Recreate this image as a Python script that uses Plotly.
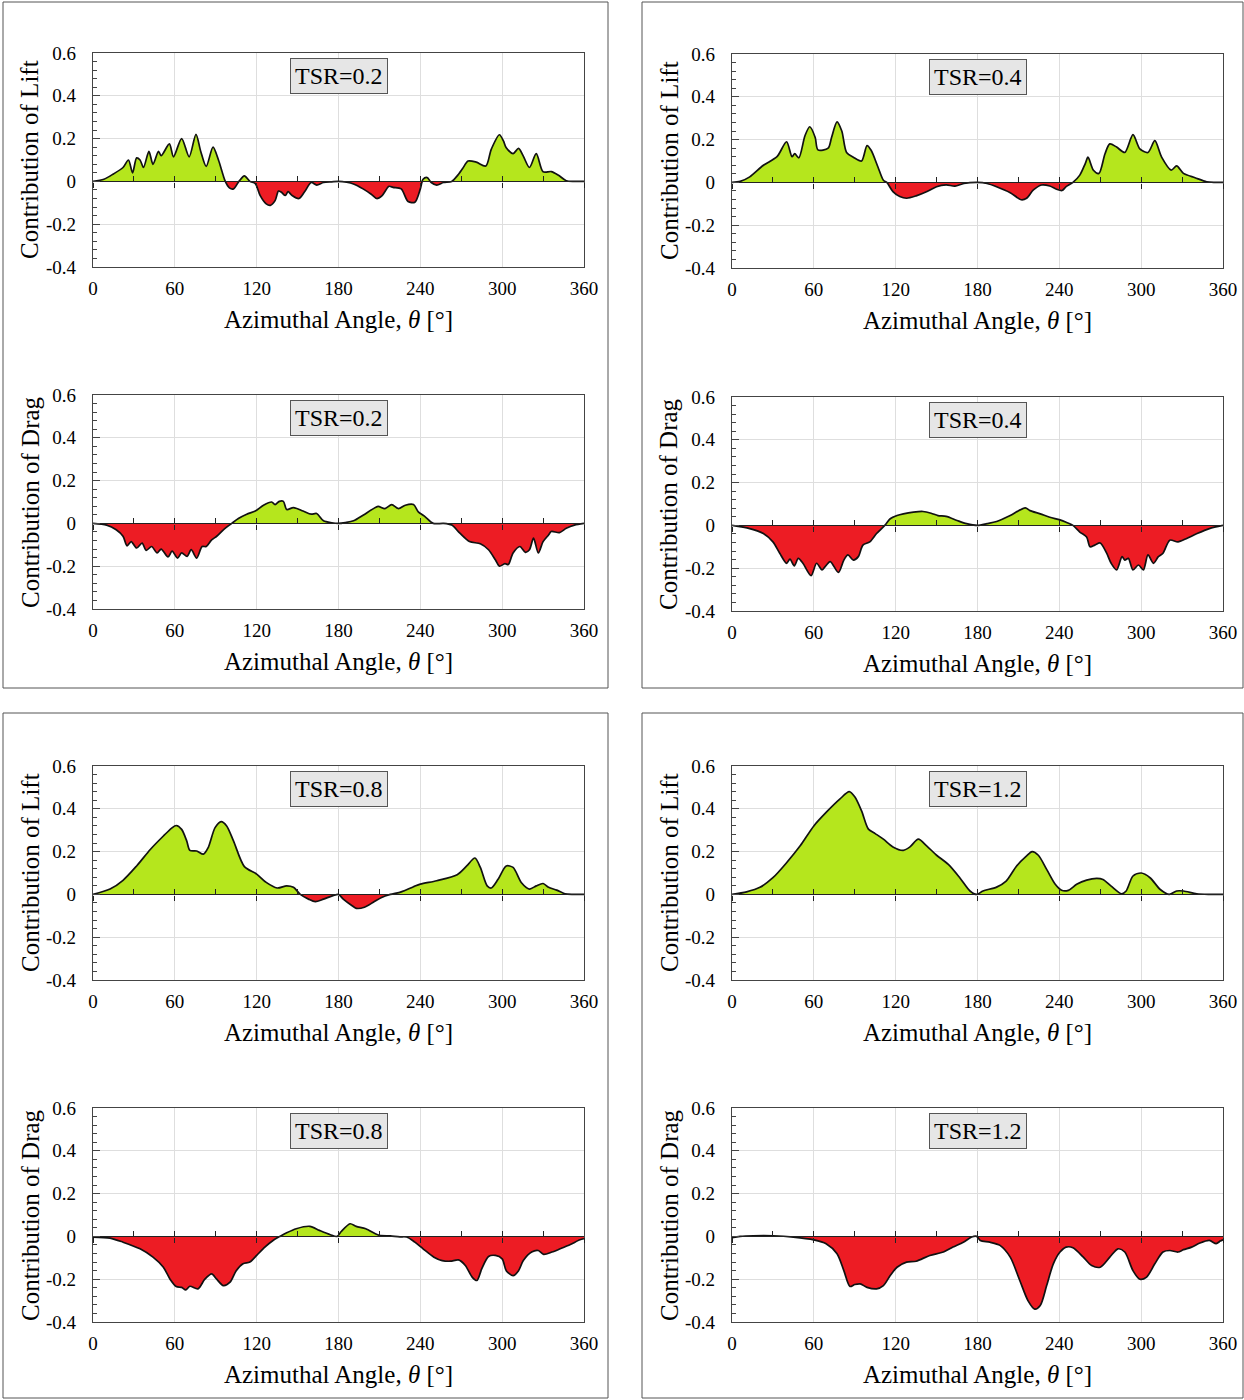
import plotly.graph_objects as go

# ---------------- data ----------------
x_ticks = [0, 60, 120, 180, 240, 300, 360]
y_ticks = [-0.4, -0.2, 0, 0.2, 0.4, 0.6]
y_tick_text = ["-0.4", "-0.2", "0", "0.2", "0.4", "0.6"]
tsr_labels = ["TSR=0.2", "TSR=0.4", "TSR=0.8", "TSR=1.2"]

theta_lift_tsr02 = [0, 8, 15, 22, 26, 29, 32, 34.5, 37, 41, 44, 48, 50, 56, 59, 65, 70.5, 75.5, 79, 83,
                    88, 92, 97, 100, 103, 107, 111, 115, 119, 122.5, 127, 130, 133.5, 136, 138, 141, 143, 146, 151, 155,
                    160, 164, 169, 175, 180, 186, 191, 198, 204, 208, 212, 217, 220, 226, 231, 236, 240, 242, 245, 248,
                    252, 257, 263, 267, 271, 275, 281, 288, 292, 298, 301, 303, 308, 312, 315.5, 320, 325, 330, 336, 341,
                    347, 353, 360]
lift_tsr02 = [0, 0.01, 0.035, 0.065, 0.10, 0.04, 0.11, 0.10, 0.065, 0.14, 0.08, 0.14, 0.12, 0.175, 0.115, 0.20, 0.115, 0.22, 0.14, 0.07,
              0.16, 0.10, 0.0, -0.03, -0.035, 0.0, 0.026, 0.0, -0.01, -0.065, -0.105, -0.112, -0.09, -0.045, -0.05, -0.066, -0.048, -0.066, -0.08, -0.05,
              -0.005, -0.017, -0.005, -0.002, 0, -0.004, -0.012, -0.035, -0.06, -0.08, -0.066, -0.023, -0.028, -0.035, -0.094, -0.097, -0.035, 0.01, 0.018, -0.005,
              -0.017, -0.005, 0, 0.026, 0.06, 0.095, 0.09, 0.072, 0.15, 0.218, 0.188, 0.157, 0.13, 0.154, 0.118, 0.065, 0.13, 0.045, 0.046, 0.03,
              0.003, 0, 0]

theta_drag_tsr02 = [0, 10, 17, 22, 25, 28, 32, 36, 39, 43, 47, 50, 55, 58, 62, 65, 69, 72, 76, 80,
                    83, 87, 90.7, 95.6, 101.7, 106.6, 112.7, 119, 125, 131, 133.5, 136.6, 139.6, 142, 147, 154, 160, 164, 169, 175,
                    180, 185, 191, 198, 205.6, 209, 214, 219, 224, 229, 235, 238.5, 243, 249.5, 257, 263, 269, 276, 284, 290,
                    295, 298, 302, 304.5, 308, 313, 317, 320, 323, 326.5, 330, 334, 336, 342, 347, 353, 360]
drag_tsr02 = [0, -0.008, -0.03, -0.06, -0.105, -0.085, -0.115, -0.092, -0.126, -0.108, -0.138, -0.12, -0.157, -0.13, -0.162, -0.138, -0.154, -0.123, -0.162, -0.108,
              -0.108, -0.077, -0.06, -0.03, 0, 0.023, 0.043, 0.058, 0.085, 0.1, 0.088, 0.103, 0.103, 0.065, 0.074, 0.058, 0.043, 0.046, 0.012, 0.003,
              0, 0.004, 0.012, 0.038, 0.069, 0.08, 0.069, 0.088, 0.069, 0.085, 0.088, 0.054, 0.034, 0, 0, -0.008, -0.046, -0.085, -0.095, -0.123,
              -0.17, -0.2, -0.188, -0.192, -0.138, -0.108, -0.135, -0.123, -0.069, -0.138, -0.085, -0.054, -0.038, -0.043, -0.023, -0.008, 0]

theta_lift_tsr04 = [0, 6, 13, 23, 33, 40, 44, 46, 49, 53.5, 57, 61, 63, 70.5, 73, 77, 80.5, 84, 89, 95,
                    99, 102, 107, 111, 113.5, 118, 123, 128, 135, 143, 150, 157, 163.5, 170, 180, 187, 194, 204, 212, 216,
                    221, 227, 233, 238, 242, 245, 250, 255, 259, 261, 265, 269, 273.5, 277, 282, 288, 294, 299, 305, 310,
                    315, 322, 326, 331, 339.5, 348, 354, 360]
lift_tsr04 = [0, 0.005, 0.026, 0.08, 0.12, 0.19, 0.12, 0.134, 0.115, 0.218, 0.26, 0.21, 0.152, 0.16, 0.21, 0.283, 0.24, 0.14, 0.118, 0.10,
              0.172, 0.15, 0.072, 0.01, 0, -0.043, -0.066, -0.074, -0.063, -0.043, -0.02, -0.012, -0.017, -0.005, 0, -0.005, -0.02, -0.048, -0.081, -0.074,
              -0.035, -0.012, -0.017, -0.032, -0.038, -0.02, 0, 0.034, 0.088, 0.118, 0.057, 0.042, 0.134, 0.18, 0.165, 0.14, 0.223, 0.157, 0.14, 0.195,
              0.118, 0.057, 0.077, 0.042, 0.022, 0.003, 0, 0]

theta_drag_tsr04 = [0, 13, 23, 30, 35, 40, 42.5, 45.7, 48.6, 52, 58, 62, 66, 68, 72, 78, 82, 85, 89, 92.6,
                    96, 101, 106, 112, 116, 121, 125.6, 133, 140, 146, 151, 157, 165, 172, 180, 187, 194, 204, 215, 218.5,
                    226, 233, 240.5, 245, 250, 255, 260, 262.5, 266, 270, 274.7, 278, 282, 286, 288, 290.6, 294, 298, 301.6, 305,
                    309, 312.6, 316, 321, 327, 333, 341, 350, 360]
drag_tsr04 = [0, -0.015, -0.038, -0.077, -0.13, -0.177, -0.158, -0.189, -0.154, -0.177, -0.235, -0.177, -0.208, -0.195, -0.169, -0.22, -0.162, -0.138, -0.162, -0.146,
              -0.092, -0.077, -0.038, 0, 0.031, 0.046, 0.054, 0.062, 0.065, 0.057, 0.046, 0.042, 0.023, 0.008, 0, 0.008, 0.018, 0.046, 0.082, 0.069,
              0.054, 0.038, 0.026, 0.015, 0, -0.031, -0.054, -0.1, -0.092, -0.082, -0.13, -0.177, -0.208, -0.146, -0.162, -0.154, -0.208, -0.185, -0.208, -0.138,
              -0.177, -0.146, -0.13, -0.069, -0.077, -0.062, -0.038, -0.015, 0]

theta_lift_tsr08 = [0, 12.5, 22, 32, 42, 51.6, 57.7, 61, 65, 68.7, 71, 76, 81, 84.5, 89.5, 94, 98, 103, 111, 120,
                    127, 135, 142, 147, 152, 158, 163, 169, 176, 180, 183.5, 190, 193, 199, 205.5, 211.6, 218, 226, 235, 240,
                    252, 267, 274, 280, 284, 289, 292, 297, 303, 308, 314, 320, 325, 330, 334, 340, 346, 352, 360]
lift_tsr08 = [0, 0.025, 0.066, 0.133, 0.21, 0.273, 0.31, 0.322, 0.304, 0.25, 0.206, 0.203, 0.188, 0.219, 0.312, 0.34, 0.32, 0.25, 0.13, 0.095,
              0.056, 0.03, 0.04, 0.033, 0, -0.022, -0.034, -0.022, -0.006, 0, -0.022, -0.053, -0.065, -0.06, -0.037, -0.014, 0, 0.012, 0.036, 0.048,
              0.064, 0.092, 0.133, 0.17, 0.126, 0.04, 0.03, 0.071, 0.133, 0.126, 0.056, 0.025, 0.04, 0.051, 0.033, 0.02, 0.003, 0, 0]

theta_drag_tsr08 = [0, 12.5, 22, 34.5, 44, 51.6, 56.5, 61, 65, 68, 71, 77, 82, 87, 90.7, 95.6, 100.5, 105, 110, 115,
                    120, 126, 132, 137, 142, 149, 159, 166, 174, 179, 182, 188.5, 193, 200, 207, 210, 218, 225, 230, 236,
                    242, 250, 256, 262, 268, 273, 278, 281.5, 285, 290, 295, 300, 303, 308, 312, 315.5, 321.6, 326.5, 330.4, 336.5,
                    342.5, 350, 357, 360]
drag_tsr08 = [-0.003, -0.008, -0.027, -0.058, -0.097, -0.144, -0.2, -0.234, -0.238, -0.25, -0.233, -0.245, -0.2, -0.175, -0.2, -0.23, -0.214, -0.16, -0.128, -0.12,
              -0.089, -0.05, -0.019, 0, 0.017, 0.036, 0.047, 0.028, 0.008, 0, 0.023, 0.059, 0.047, 0.036, 0.012, 0.005, 0.002, -0.002, -0.003, -0.027,
              -0.058, -0.097, -0.113, -0.116, -0.11, -0.136, -0.19, -0.206, -0.152, -0.094, -0.089, -0.105, -0.16, -0.183, -0.16, -0.113, -0.073, -0.066, -0.084, -0.073,
              -0.058, -0.038, -0.016, -0.011]

theta_lift_tsr12 = [0, 10.7, 20.5, 30, 40, 50, 60, 69, 79, 86, 90, 95, 100, 105, 111, 118, 125.6, 130.5, 136.6, 142.7,
                    150, 158.6, 167, 174.5, 179.4, 184, 194, 201, 208.7, 216, 220, 224.6, 230.7, 237, 241.7, 246.6, 252.7, 260, 267.4, 272,
                    278, 285.7, 289, 294, 300, 306.5, 314, 320.6, 326, 331, 340.7, 350, 360]
lift_tsr12 = [0, 0.012, 0.033, 0.078, 0.148, 0.227, 0.32, 0.383, 0.445, 0.48, 0.456, 0.39, 0.305, 0.284, 0.258, 0.222, 0.206, 0.222, 0.258, 0.227,
              0.183, 0.14, 0.078, 0.016, 0, 0.016, 0.034, 0.062, 0.133, 0.18, 0.2, 0.183, 0.117, 0.047, 0.019, 0.019, 0.047, 0.067, 0.075, 0.07,
              0.039, 0.003, 0.016, 0.086, 0.1, 0.078, 0.023, 0, 0.016, 0.016, 0.003, 0, 0]

theta_drag_tsr12 = [0, 6, 15.6, 30, 45, 60, 69, 77, 82, 86.5, 90, 94, 99, 106, 111, 116, 121, 128, 135, 145,
                    155, 162, 169.6, 175.7, 179.4, 182, 189, 196.5, 204, 211, 217, 222, 226, 230.7, 235.6, 240.5, 245, 250, 257.6, 263.7,
                    270, 277, 283, 288, 294, 299, 304, 310, 316, 321, 327, 331, 337, 343, 350, 355, 358, 360]
drag_tsr12 = [-0.006, 0, 0.003, 0.003, -0.003, -0.016, -0.034, -0.081, -0.16, -0.234, -0.225, -0.222, -0.238, -0.245, -0.23, -0.183, -0.144, -0.12, -0.116, -0.089,
              -0.073, -0.05, -0.027, -0.003, 0, -0.019, -0.027, -0.042, -0.097, -0.206, -0.3, -0.34, -0.323, -0.23, -0.128, -0.073, -0.05, -0.053, -0.097, -0.136,
              -0.144, -0.097, -0.058, -0.073, -0.16, -0.2, -0.19, -0.128, -0.073, -0.066, -0.073, -0.062, -0.05, -0.031, -0.019, -0.034, -0.022, -0.016]

# ---------------- layout helpers ----------------
W, H = 1244, 1400
FONT = "Liberation Serif, Times New Roman, serif"
GREEN = "#B5E61D"
RED = "#ED1C24"


def ax_id(letter, k):
    return letter if k == 1 else f"{letter}{k}"


def ax_key(letter, k):
    return f"{letter}axis" if k == 1 else f"{letter}axis{k}"


# (theta, values, y title, tsr label, px-left, px-right, px-top, px-bottom)
panels = [
    (theta_lift_tsr02, lift_tsr02, "Contribution of Lift", tsr_labels[0], 93, 584, 53, 267),
    (theta_drag_tsr02, drag_tsr02, "Contribution of Drag", tsr_labels[0], 93, 584, 395, 609),
    (theta_lift_tsr04, lift_tsr04, "Contribution of Lift", tsr_labels[1], 732, 1223, 54, 268),
    (theta_drag_tsr04, drag_tsr04, "Contribution of Drag", tsr_labels[1], 732, 1223, 397, 611),
    (theta_lift_tsr08, lift_tsr08, "Contribution of Lift", tsr_labels[2], 93, 584, 766, 980),
    (theta_drag_tsr08, drag_tsr08, "Contribution of Drag", tsr_labels[2], 93, 584, 1108, 1322),
    (theta_lift_tsr12, lift_tsr12, "Contribution of Lift", tsr_labels[3], 732, 1223, 766, 980),
    (theta_drag_tsr12, drag_tsr12, "Contribution of Drag", tsr_labels[3], 732, 1223, 1108, 1322),
]

fig = go.Figure()
layout = {}
annotations = []
n = len(panels)
for i, (th, val, ytitle, tsr, xl, xr, yt, yb) in enumerate(panels, start=1):
    assert len(th) == len(val)
    xdom = [xl / W, xr / W]
    ydom = [1 - yb / H, 1 - yt / H]
    zero_pos = ydom[0] + 0.4 * (ydom[1] - ydom[0])
    xa, xb, xc = i, n + i, 2 * n + i
    yid = ax_id("y", i)
    pos = [max(v, 0) for v in val]
    neg = [min(v, 0) for v in val]
    fig.add_trace(go.Scatter(x=th, y=pos, mode="lines", fill="tozeroy", fillcolor=GREEN,
                             line=dict(width=0, shape="spline", smoothing=0.8),
                             xaxis=ax_id("x", xa), yaxis=yid, showlegend=False, hoverinfo="skip"))
    fig.add_trace(go.Scatter(x=th, y=neg, mode="lines", fill="tozeroy", fillcolor=RED,
                             line=dict(width=0, shape="spline", smoothing=0.8),
                             xaxis=ax_id("x", xb), yaxis=yid, showlegend=False, hoverinfo="skip"))
    fig.add_trace(go.Scatter(x=th, y=val, mode="lines",
                             line=dict(width=1.7, color="#111111", shape="spline", smoothing=0.8),
                             xaxis=ax_id("x", xc), yaxis=yid, showlegend=False))

    layout[ax_key("x", xa)] = dict(
        domain=xdom, anchor=yid, range=[0, 360], tickmode="array", tickvals=x_ticks, automargin=False,
        showgrid=True, gridcolor="#dedede", gridwidth=1, zeroline=False,
        showline=True, linecolor="#444444", linewidth=1.3, mirror=True, ticks="",
        ticklabelstandoff=4,
        tickfont=dict(family=FONT, size=19, color="black"),
        title=dict(text="Azimuthal Angle, <i>θ</i> [°]", font=dict(family=FONT, size=25, color="black"), standoff=12),
    )
    common_overlay = dict(domain=xdom, range=[0, 360], overlaying=ax_id("x", xa), anchor="free", automargin=False,
                          position=zero_pos, showgrid=False, zeroline=False, showticklabels=False,
                          tickcolor="#222222", tickwidth=1.2, tick0=0)
    layout[ax_key("x", xb)] = dict(common_overlay, tickmode="linear", dtick=30, ticks="inside", ticklen=5, showline=False)
    layout[ax_key("x", xc)] = dict(common_overlay, tickmode="linear", dtick=60, ticks="outside", ticklen=5,
                                   showline=True, linecolor="#222222", linewidth=1.4, layer="above traces")
    layout[ax_key("y", i)] = dict(
        domain=ydom, anchor=ax_id("x", xa), range=[-0.4, 0.6], tickmode="array", tickvals=y_ticks, ticktext=y_tick_text,
        automargin=False,
        showgrid=True, gridcolor="#dedede", gridwidth=1, zeroline=False,
        showline=True, linecolor="#444444", linewidth=1.3, mirror=True,
        ticks="inside", ticklen=7, tickcolor="#444444",
        minor=dict(tickmode="linear", tick0=0, dtick=0.04, ticks="inside", ticklen=4, tickcolor="#444444", showgrid=False),
        ticklabelstandoff=12,
        tickfont=dict(family=FONT, size=19, color="black"),
    )
    # y-axis title placed as rotated text beside the tick labels
    annotations.append(dict(
        text=ytitle, x=(xl - 63) / W, xref="paper", y=0.5, yref=f"{yid} domain", textangle=-90,
        showarrow=False, xanchor="center", yanchor="middle",
        font=dict(family=FONT, size=25, color="black"),
    ))
    annotations.append(dict(
        text=tsr, x=180, xref=ax_id("x", xa), y=0.8925, yref=f"{yid} domain", showarrow=False,
        xanchor="center", yanchor="middle", font=dict(family=FONT, size=24, color="black"),
        bgcolor="#e6e6e6", bordercolor="#555555", borderwidth=1, borderpad=4,
    ))

shapes = []
for (x0, y0, x1, y1) in [(3, 2, 608, 688), (642, 2, 1243, 688), (3, 713, 608, 1398), (642, 713, 1243, 1398)]:
    shapes.append(dict(type="rect", xref="paper", yref="paper",
                       x0=x0 / W, x1=x1 / W, y0=1 - y1 / H, y1=1 - y0 / H,
                       line=dict(color="#555555", width=1), fillcolor="rgba(0,0,0,0)", layer="below"))

fig.update_layout(
    width=W, height=H, autosize=False,
    margin=dict(l=0, r=0, t=0, b=0, autoexpand=False),
    paper_bgcolor="white", plot_bgcolor="white",
    font=dict(family=FONT, color="black"),
    annotations=annotations, shapes=shapes, showlegend=False,
    **layout,
)

fig.write_html("out.html")
